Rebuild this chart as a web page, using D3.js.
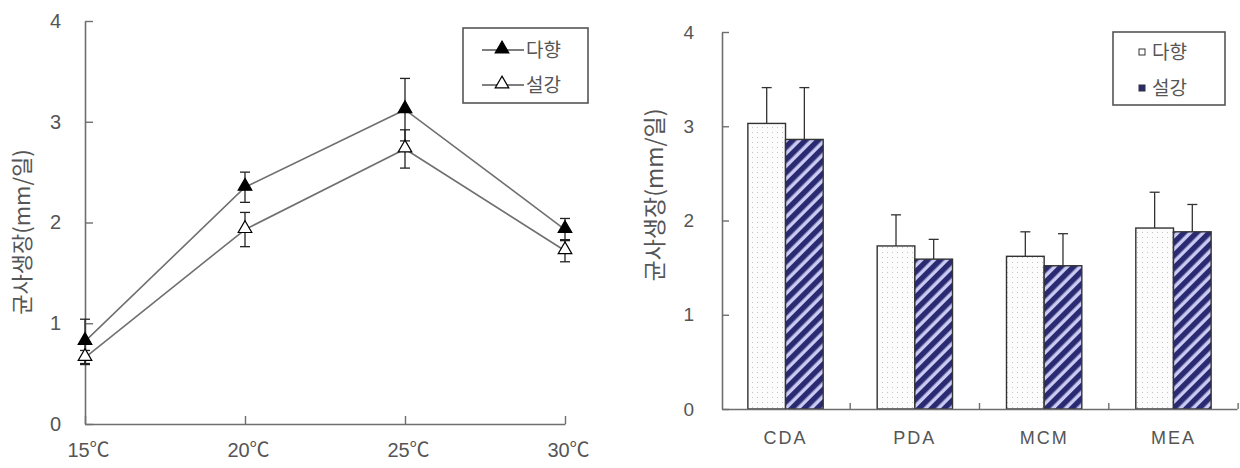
<!DOCTYPE html>
<html>
<head>
<meta charset="utf-8">
<script src="https://cdn.jsdelivr.net/npm/d3@7"></script>
<style>
  html, body { margin: 0; padding: 0; background: #fff; }
  svg { display: block; }
  text { font-family: "Liberation Sans", "Noto Sans CJK KR", sans-serif; fill: #555; }
  .kr { font-family: "Noto Sans CJK KR", sans-serif; }
</style>
</head>
<body>
<svg id="chart" width="1240" height="468"></svg>
<script>
// ---------- data ----------
const temps = ["15℃", "20℃", "25℃", "30℃"];
const dahyang = [0.82, 2.35, 3.12, 1.93];
const dahyangErr = [0.22, 0.15, 0.31, 0.11];
const seolgang = [0.66, 1.93, 2.73, 1.72];
const seolgangErr = [0.07, 0.17, 0.19, 0.11];

const media = ["CDA", "PDA", "MCM", "MEA"];
const barDahyang = [3.03, 1.73, 1.62, 1.92];
const barDahyangErr = [0.38, 0.33, 0.26, 0.38];
const barSeolgang = [2.86, 1.59, 1.52, 1.88];
const barSeolgangErr = [0.55, 0.21, 0.34, 0.29];

const yTicks = [0, 1, 2, 3, 4];
const yLabel = "균사생장(mm/일)";
const names = ["다향", "설강"];

const svg = d3.select("#chart");
const axisCol = "#6e6e6e";

// ---------- patterns ----------
const defs = svg.append("defs");
const dots = defs.append("pattern").attr("id", "dots")
  .attr("patternUnits", "userSpaceOnUse").attr("width", 5).attr("height", 5);
dots.append("rect").attr("width", 5).attr("height", 5).attr("fill", "#fcfcfc");
dots.append("rect").attr("x", 2).attr("y", 2).attr("width", 1).attr("height", 1).attr("fill", "#c4c4c4");

const stripes = defs.append("pattern").attr("id", "stripes")
  .attr("patternUnits", "userSpaceOnUse").attr("width", 9).attr("height", 9)
  .attr("patternTransform", "rotate(45)");
stripes.append("rect").attr("width", 9).attr("height", 9).attr("fill", "#cacaf2");
stripes.append("rect").attr("width", 5.5).attr("height", 9).attr("fill", "#2a2a72");

// ---------- left: line chart ----------
const L = svg.append("g");
const x = d3.scalePoint().domain(temps).range([85, 565]);
const y = d3.scaleLinear().domain([0, 4]).range([424, 21]);

const yAx = L.append("g").attr("transform", "translate(85,0)")
  .call(d3.axisLeft(y).tickValues(yTicks).tickSizeInner(-8).tickSizeOuter(0).tickPadding(24).tickFormat(d3.format("d")));
yAx.select(".domain").attr("stroke", axisCol).attr("stroke-width", 1.6);
yAx.selectAll(".tick line").attr("stroke", axisCol).attr("stroke-width", 1.4);
yAx.selectAll(".tick text").attr("font-size", 20).attr("fill", "#555");

const xAx = L.append("g").attr("transform", "translate(0,424)")
  .call(d3.axisBottom(x).tickSizeInner(-8).tickSizeOuter(0).tickPadding(19));
xAx.select(".domain").attr("stroke", axisCol).attr("stroke-width", 1.6);
xAx.selectAll(".tick line").attr("stroke", axisCol).attr("stroke-width", 1.4);
xAx.selectAll(".tick text").attr("font-size", 20).attr("fill", "#555").attr("dx", 3);

L.append("text").attr("class", "kr")
  .attr("transform", "translate(30,232) rotate(-90)")
  .attr("text-anchor", "middle").attr("font-size", 22).attr("fill", "#4a4a4a").text(yLabel);

const lineSeries = [
  { name: names[0], vals: dahyang, err: dahyangErr, fill: "#000" },
  { name: names[1], vals: seolgang, err: seolgangErr, fill: "#fff" }
];
const line = d3.line().x((d, i) => x(temps[i])).y(d => y(d));
const tri = d3.symbol().type(d3.symbolTriangle).size(80);

lineSeries.forEach(s => {
  L.append("path").datum(s.vals).attr("d", line)
    .attr("fill", "none").attr("stroke", "#707070").attr("stroke-width", 1.6);
});
lineSeries.forEach(s => {
  const g = L.append("g");
  s.vals.forEach((v, i) => {
    const cx = x(temps[i]);
    const hi = y(v + s.err[i]), lo = y(v - s.err[i]);
    g.append("line").attr("x1", cx).attr("x2", cx).attr("y1", hi).attr("y2", lo)
      .attr("stroke", "#222").attr("stroke-width", 1.3);
    [hi, lo].forEach(yy => g.append("line").attr("x1", cx - 5).attr("x2", cx + 5)
      .attr("y1", yy).attr("y2", yy).attr("stroke", "#222").attr("stroke-width", 1.3));
    g.append("path").attr("d", tri).attr("transform", `translate(${cx},${y(v) - 1})`)
      .attr("fill", s.fill).attr("stroke", "#000").attr("stroke-width", 1.2);
  });
});

// legend left
const lg = L.append("g");
lg.append("rect").attr("x", 463).attr("y", 28).attr("width", 125).attr("height", 75)
  .attr("fill", "#fff").attr("stroke", "#555").attr("stroke-width", 1.6);
lineSeries.forEach((s, i) => {
  const yy = 50 + i * 35;
  lg.append("line").attr("x1", 482).attr("x2", 524).attr("y1", yy).attr("y2", yy)
    .attr("stroke", "#555").attr("stroke-width", 1.6);
  lg.append("path").attr("d", tri).attr("transform", `translate(502,${yy - 1})`)
    .attr("fill", s.fill).attr("stroke", "#000").attr("stroke-width", 1.2);
  lg.append("text").attr("class", "kr").attr("x", 526).attr("y", yy + 7)
    .attr("font-size", 19).text(s.name);
});

// ---------- right: bar chart ----------
const R = svg.append("g");
const x0 = d3.scaleBand().domain(media).range([722, 1237]).paddingInner(0.4175).paddingOuter(0.2);
const x1 = d3.scaleBand().domain(names).range([0, x0.bandwidth()]);
const yb = d3.scaleLinear().domain([0, 4]).range([409, 32]);

const barSeries = [
  { name: names[0], vals: barDahyang, err: barDahyangErr, fill: "url(#dots)" },
  { name: names[1], vals: barSeolgang, err: barSeolgangErr, fill: "url(#stripes)" }
];

barSeries.forEach(s => {
  const g = R.append("g");
  s.vals.forEach((v, i) => {
    const bx = x0(media[i]) + x1(s.name);
    const cx = bx + x1.bandwidth() / 2;
    g.append("line").attr("x1", cx).attr("x2", cx).attr("y1", yb(v)).attr("y2", yb(v + s.err[i]))
      .attr("stroke", "#333").attr("stroke-width", 1.3);
    g.append("line").attr("x1", cx - 5).attr("x2", cx + 5)
      .attr("y1", yb(v + s.err[i])).attr("y2", yb(v + s.err[i]))
      .attr("stroke", "#333").attr("stroke-width", 1.3);
    g.append("rect").attr("x", bx).attr("y", yb(v)).attr("width", x1.bandwidth())
      .attr("height", yb(0) - yb(v)).attr("fill", s.fill)
      .attr("stroke", "#333").attr("stroke-width", 1.4);
  });
});

const ybAx = R.append("g").attr("transform", "translate(722,0)")
  .call(d3.axisLeft(yb).tickValues(yTicks).tickSizeInner(-7).tickSizeOuter(0).tickPadding(28).tickFormat(d3.format("d")));
ybAx.select(".domain").attr("stroke", axisCol).attr("stroke-width", 1.6);
ybAx.selectAll(".tick line").attr("stroke", axisCol).attr("stroke-width", 1.4);
ybAx.selectAll(".tick text").attr("font-size", 19).attr("fill", "#666");

const xbAx = R.append("g").attr("transform", "translate(0,409)")
  .call(d3.axisBottom(x0).tickSize(0).tickPadding(22));
xbAx.select(".domain").attr("stroke", axisCol).attr("stroke-width", 1.6);
xbAx.selectAll(".tick text").attr("font-size", 18).attr("fill", "#555").attr("letter-spacing", 2);

// category separators
const seps = media.map(m => x0(m) + x0.bandwidth() + x0.step() * x0.paddingInner() / 2);
R.selectAll("line.sep").data(seps).join("line").attr("class", "sep")
  .attr("x1", d => d).attr("x2", d => d).attr("y1", 409).attr("y2", 403)
  .attr("stroke", axisCol).attr("stroke-width", 1.4);

R.append("text").attr("class", "kr")
  .attr("transform", "translate(663,195) rotate(-90)")
  .attr("text-anchor", "middle").attr("font-size", 23).attr("fill", "#4a4a4a").text(yLabel);

// legend right
const rg = R.append("g");
rg.append("rect").attr("x", 1113).attr("y", 32).attr("width", 112).attr("height", 73)
  .attr("fill", "#fff").attr("stroke", "#555").attr("stroke-width", 1.6);
barSeries.forEach((s, i) => {
  const yy = 52 + i * 36;
  rg.append("rect").attr("x", 1139).attr("y", yy - 3).attr("width", 6).attr("height", 6)
    .attr("fill", i === 0 ? "#fff" : "#2a2a72").attr("stroke", "#333").attr("stroke-width", 1);
  rg.append("text").attr("class", "kr").attr("x", 1152).attr("y", yy + 7)
    .attr("font-size", 19).text(s.name);
});
</script>
</body>
</html>
